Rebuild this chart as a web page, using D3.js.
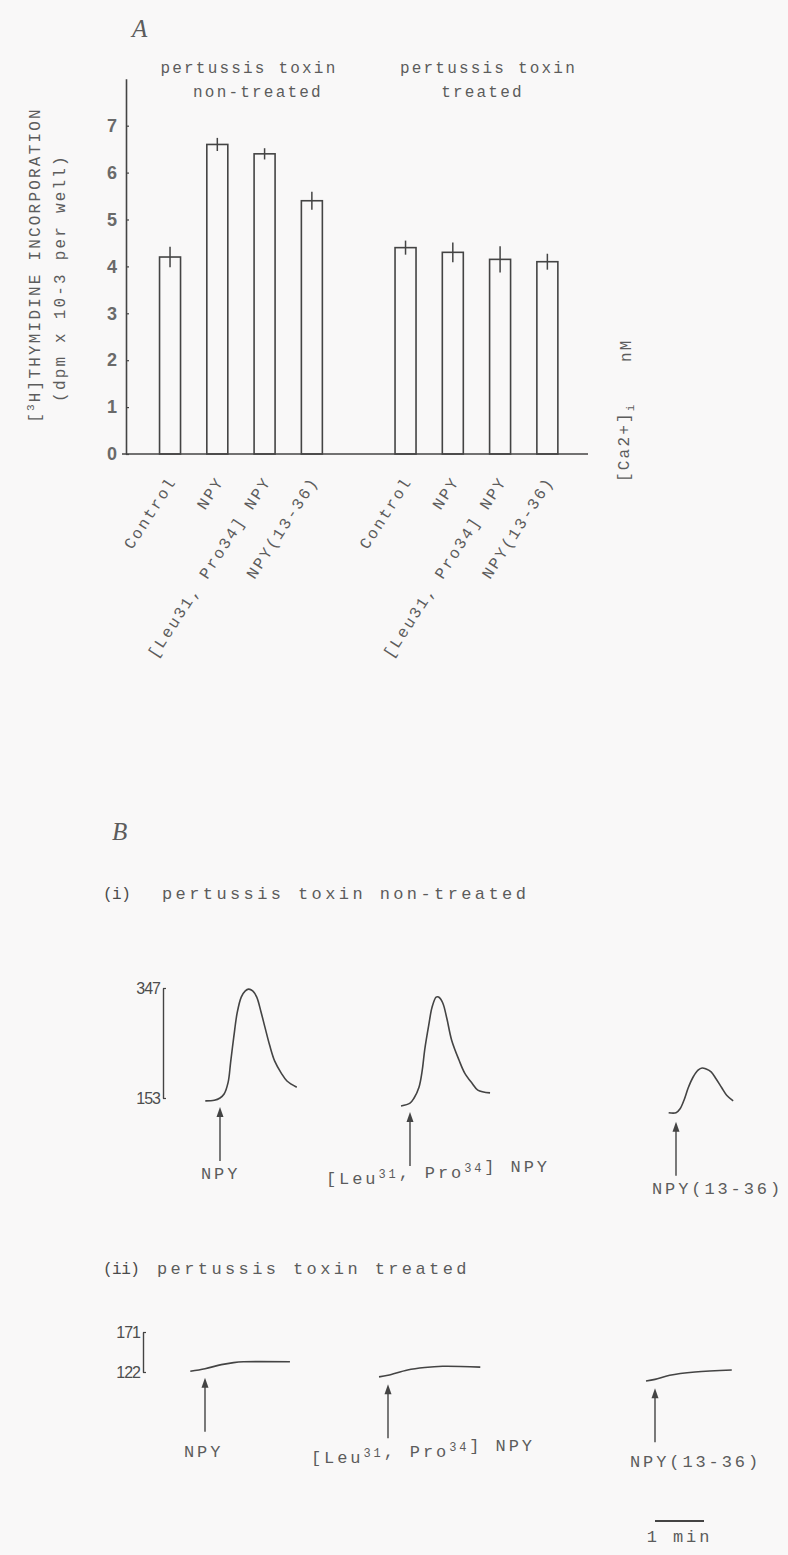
<!DOCTYPE html>
<html>
<head>
<meta charset="utf-8">
<script src="https://cdn.jsdelivr.net/npm/d3@7"></script>
<style>
  html, body { margin: 0; padding: 0; background: #f9f8f8; }
  svg { display: block; }
</style>
</head>
<body>
<svg id="fig" width="788" height="1555"></svg>
<script>
// ---------- Panel A: [3H]thymidine incorporation (mean ± s.e.) ----------
const groups = ["non-treated", "treated"];
const agents = ["Control", "NPY", "[Leu31, Pro34] NPY", "NPY(13-36)"];
const nonTreatedMean = [4.2, 6.6, 6.4, 5.4];
const nonTreatedErr  = [0.22, 0.14, 0.12, 0.19];
const treatedMean    = [4.4, 4.3, 4.15, 4.1];
const treatedErr     = [0.15, 0.21, 0.28, 0.17];
const yTicksA = [0, 1, 2, 3, 4, 5, 6, 7];

// ---------- Panel B: [Ca2+]i traces (time in s from agonist, nM) ----------
const tracesAgents = ["NPY", "[Leu31, Pro34] NPY", "NPY(13-36)"];
// (i) pertussis toxin non-treated
const timeNpyI   = [-18, -7, 0, 5, 10, 13, 17, 21, 26, 31, 35, 40, 45, 50, 55, 61, 67, 75, 82, 94];
const caNpyI     = [148, 149, 153, 160, 181, 216, 262, 303, 331, 342, 345, 342, 331, 306, 278, 245, 218, 197, 183, 172];
const timeLeuI   = [-11, 0, 5, 11, 15, 18, 23, 27, 32, 35, 40, 45, 51, 60, 67, 76, 83, 98];
const caLeuI     = [139, 144, 153, 172, 202, 238, 282, 313, 331, 331, 321, 294, 255, 220, 197, 179, 167, 162];
const time1336I  = [-9, 0, 5, 10, 15, 21, 27, 32, 37, 43, 49, 56, 62, 70];
const ca1336I    = [127, 127, 134, 150, 171, 190, 202, 206, 204, 199, 187, 171, 158, 148];
// (ii) pertussis toxin treated
const timeNpyII  = [-18, 0, 20, 35, 47, 104];
const caNpyII    = [123, 126, 131, 133.5, 134.5, 134.5];
const timeLeuII  = [-11, 0, 24, 45, 67, 113];
const caLeuII    = [116, 118, 124.5, 127.5, 129, 128];
const time1336II = [-11, 0, 18, 49, 94];
const ca1336II   = [111, 113, 118, 122, 124.5];
// calibration bars (nM)
const calTicksI  = [153, 347];
const calTicksII = [122, 171];
const timeBar    = [0, 60];   // 1 min

// ---------- drawing ----------
const svg = d3.select("#fig");
const ink = "#444";
const textInk = "#5c5c5c";
const mono = "'Liberation Mono', 'DejaVu Sans Mono', monospace";
const sans = "'Liberation Sans', Arial, sans-serif";
const serif = "'Liberation Serif', 'DejaVu Serif', serif";
const monoA = { size: 16, spacing: 2.2 };
const monoB = { size: 17, spacing: 3.4 };

// panel letters
svg.append("text").attr("x", 132).attr("y", 37).text("A")
  .attr("font-family", serif).attr("font-style", "italic").attr("font-size", 25).attr("fill", textInk);
svg.append("text").attr("x", 112).attr("y", 840).text("B")
  .attr("font-family", serif).attr("font-style", "italic").attr("font-size", 25).attr("fill", textInk);

function monoTextA(sel) {
  return sel.attr("font-family", mono).attr("font-size", monoA.size)
    .attr("letter-spacing", monoA.spacing).attr("fill", textInk);
}
function monoTextB(sel, spacing) {
  return sel.attr("font-family", mono).attr("font-size", monoB.size)
    .attr("letter-spacing", spacing === undefined ? monoB.spacing : spacing).attr("fill", textInk);
}

const gA = svg.append("g");
const yA = d3.scaleLinear().domain([0, 8]).range([454, 78.8]);
const outer = d3.scaleBand().domain(groups).range([146.4, 571]).paddingInner(0.197).paddingOuter(0);
const inner = d3.scaleBand().domain(agents).range([0, outer.bandwidth()])
  .paddingInner(0.556).paddingOuter(0.278);
const axisXA = 126;

// y axis
gA.append("g").attr("transform", `translate(${axisXA},0)`)
  .call(d3.axisLeft(yA).tickValues(yTicksA).tickSizeInner(-3).tickSizeOuter(0)
    .tickPadding(9).tickFormat(d3.format("d")))
  .call(g => {
    g.select(".domain").attr("stroke", ink).attr("stroke-width", 1.6);
    g.selectAll(".tick line").attr("stroke", ink).attr("stroke-width", 1.2);
    g.selectAll(".tick text").attr("font-family", sans).attr("font-size", 18)
      .attr("font-weight", "bold").attr("fill", "#6a6a6a");
  });

// x baseline
gA.append("line")
  .attr("x1", axisXA - 4).attr("x2", outer.range()[1] + 17)
  .attr("y1", yA(0)).attr("y2", yA(0))
  .attr("stroke", ink).attr("stroke-width", 1.6);

// y axis title
const yTitle1 = monoTextA(gA.append("text").attr("transform", "translate(40,265) rotate(-90)")
  .attr("text-anchor", "middle"));
yTitle1.append("tspan").text("[");
yTitle1.append("tspan").text("3").attr("font-size", 11).attr("dy", -6);
yTitle1.append("tspan").text("H]THYMIDINE INCORPORATION").attr("dy", 6);
monoTextA(gA.append("text").attr("transform", "translate(65,278) rotate(-90)")
  .attr("text-anchor", "middle")).text("(dpm x 10-3 per well)");

// bars and error bars
const barData = [];
groups.forEach((grp, gi) => {
  const m = gi === 0 ? nonTreatedMean : treatedMean;
  const e = gi === 0 ? nonTreatedErr : treatedErr;
  agents.forEach((a, i) => barData.push({ group: grp, agent: a, mean: m[i], err: e[i] }));
});
const bx = d => outer(d.group) + inner(d.agent);
gA.selectAll("rect.bar").data(barData).join("rect").attr("class", "bar")
  .attr("x", bx).attr("width", inner.bandwidth())
  .attr("y", d => yA(d.mean)).attr("height", d => yA(0) - yA(d.mean))
  .attr("fill", "none").attr("stroke", ink).attr("stroke-width", 1.6);
gA.selectAll("line.err").data(barData).join("line").attr("class", "err")
  .attr("x1", d => bx(d) + inner.bandwidth() / 2).attr("x2", d => bx(d) + inner.bandwidth() / 2)
  .attr("y1", d => yA(d.mean + d.err)).attr("y2", d => yA(d.mean - d.err))
  .attr("stroke", ink).attr("stroke-width", 1.5);

// category labels, rotated
groups.forEach(grp => {
  gA.append("g").attr("transform", `translate(${outer(grp)},${yA(0)})`)
    .call(d3.axisBottom(inner).tickSize(0).tickPadding(0))
    .call(g => {
      g.select(".domain").remove();
      monoTextA(g.selectAll(".tick text").attr("y", null).attr("dy", null)
        .attr("text-anchor", "end").attr("transform", "translate(7,27) rotate(-57)"));
    });
});

// group headings
const headings = [
  { group: "non-treated", lines: ["pertussis toxin", "non-treated"], dx: [8, 17] },
  { group: "treated", lines: ["pertussis toxin", "treated"], dx: [12, 6] }
];
headings.forEach(h => {
  const cx = outer(h.group) + outer.bandwidth() / 2;
  h.lines.forEach((ln, i) => {
    monoTextA(gA.append("text").attr("x", cx + h.dx[i]).attr("y", 73 + 24 * i)
      .attr("text-anchor", "middle")).text(ln);
  });
});

// [Ca2+]i nM label
const caLab = monoTextA(gA.append("text").attr("transform", "translate(629,482) rotate(-90)"));
caLab.append("tspan").text("[Ca2+]");
caLab.append("tspan").text("i").attr("font-size", 11).attr("dy", 5);
monoTextA(gA.append("text").attr("transform", "translate(631,362) rotate(-90)")).text("nM");

// ---------- Panel B ----------
const tScale = d3.scaleLinear().domain([0, 60]).range([0, 49]);
const yI = d3.scaleLinear().domain([153, 347]).range([1098, 988]);
const yII = d3.scaleLinear().domain([122, 171]).range([1372, 1332]);

const rows = [
  { tag: "(i)", title: "pertussis toxin non-treated", titleY: 899, titleX: 162,
    y: yI, calX: 163, calTicks: calTicksI, labelGap: 18,
    arrowX: [220, 410, 676], labelDx: [-19, -84, -24],
    traces: [[timeNpyI, caNpyI], [timeLeuI, caLeuI], [time1336I, ca1336I]] },
  { tag: "(ii)", title: "pertussis toxin treated", titleY: 1274, titleX: 157,
    y: yII, calX: 143, calTicks: calTicksII, labelGap: 25,
    arrowX: [205, 388, 655], labelDx: [-21, -77, -25],
    traces: [[timeNpyII, caNpyII], [timeLeuII, caLeuII], [time1336II, ca1336II]] }
];

rows.forEach(row => {
  const g = svg.append("g");
  g.append("text").attr("x", 103).attr("y", row.titleY).text(row.tag)
    .attr("font-family", mono).attr("font-size", 16).attr("letter-spacing", -0.5).attr("fill", "#4a4a4a");
  monoTextB(g.append("text").attr("x", row.titleX).attr("y", row.titleY)).text(row.title);

  // calibration bar
  g.append("g").attr("transform", `translate(${row.calX},0)`)
    .call(d3.axisLeft(row.y).tickValues(row.calTicks).tickSizeInner(-3).tickSizeOuter(0).tickPadding(3))
    .call(a => {
      a.select(".domain").attr("stroke", ink).attr("stroke-width", 1.4);
      a.selectAll(".tick line").attr("stroke", ink).attr("stroke-width", 1.2);
      a.selectAll(".tick text").attr("font-family", sans).attr("font-size", 16)
        .attr("letter-spacing", -1).attr("fill", "#4d4d4d");
    });

  const line = d3.line()
    .x(d => d.ox + tScale(d.t)).y(d => row.y(d.ca))
    .curve(d3.curveCatmullRom.alpha(0.5));

  row.traces.forEach(([ts, cs], k) => {
    const ox = row.arrowX[k];
    const pts = ts.map((t, i) => ({ t, ca: cs[i], ox }));
    g.append("path").attr("d", line(pts)).attr("fill", "none")
      .attr("stroke", ink).attr("stroke-width", 1.6);

    // agonist arrow
    const ca0 = cs[ts.indexOf(0)];
    const top = row.y(ca0) + 9;
    const bottom = top + 54;
    g.append("line").attr("x1", ox).attr("x2", ox).attr("y1", top + 6).attr("y2", bottom)
      .attr("stroke", ink).attr("stroke-width", 1.4);
    g.append("path").attr("d", `M${ox - 3.5},${top + 10}L${ox},${top}L${ox + 3.5},${top + 10}Z`)
      .attr("fill", ink);

    // agonist label
    const lab = monoTextB(g.append("text").attr("x", ox + row.labelDx[k]).attr("y", bottom + row.labelGap), 2.9);
    const name = tracesAgents[k];
    name.split(/(31|34)/).forEach(part => {
      if (part === "31" || part === "34") {
        lab.append("tspan").text(part).attr("font-size", 12).attr("dy", -6);
        lab.append("tspan").text("").attr("dy", 6);
      } else {
        lab.append("tspan").text(part);
      }
    });
  });
});

// time scale bar
const tbX = 655;
svg.append("line").attr("x1", tbX + tScale(timeBar[0])).attr("x2", tbX + tScale(timeBar[1]))
  .attr("y1", 1521).attr("y2", 1521).attr("stroke", ink).attr("stroke-width", 2);
monoTextB(svg.append("text").attr("x", tbX + tScale(30)).attr("y", 1542)
  .attr("text-anchor", "middle"), 2.9).text("1 min");
</script>
</body>
</html>
